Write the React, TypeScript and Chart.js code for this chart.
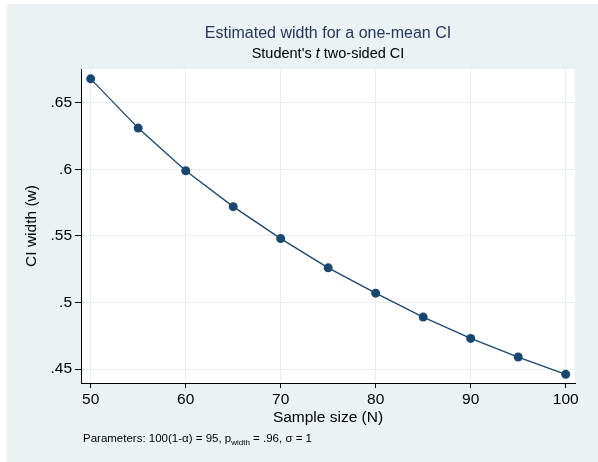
import React, { useEffect, useRef } from "react";
import { Chart, registerables } from "chart.js";

Chart.register(...registerables);

const sampleSizes = [50, 55, 60, 65, 70, 75, 80, 85, 90, 95, 100];
const ciWidths = [0.668, 0.631, 0.599, 0.572, 0.548, 0.526, 0.507, 0.489, 0.473, 0.459, 0.446];
const xTickValues = [50, 60, 70, 80, 90, 100];
const yTickValues = [0.45, 0.5, 0.55, 0.6, 0.65];

const titleText = "Estimated width for a one-mean CI";
const subtitleParts = ["Student's ", "t", " two-sided CI"];
const xTitle = "Sample size (N)";
const yTitle = "CI width (w)";
const noteParts = ["Parameters: 100(1-\u03B1) = 95, p", "width", " = .96, \u03C3 = 1"];

const FONT = "'Liberation Sans', Arial, Helvetica, sans-serif";
const BG = "#eaf2f3";
const NAVY = "#1a476f";
const TITLE_COLOR = "#26365f";

const decorPlugin = {
  id: "decor",
  beforeDraw(chart: any) {
    const { ctx, chartArea } = chart;
    ctx.save();
    ctx.fillStyle = BG;
    ctx.fillRect(0, 0, chart.width, chart.height);
    ctx.fillStyle = "#ffffff";
    ctx.fillRect(chartArea.left, chartArea.top, chartArea.right - chartArea.left, chartArea.bottom - chartArea.top);
    ctx.restore();
  },
  afterDraw(chart: any) {
    const { ctx, chartArea } = chart;
    const cx = (chartArea.left + chartArea.right) / 2;
    const cy = (chartArea.top + chartArea.bottom) / 2;
    ctx.save();
    // Title
    ctx.fillStyle = TITLE_COLOR;
    ctx.font = `16px ${FONT}`;
    ctx.textAlign = "center";
    ctx.textBaseline = "alphabetic";
    ctx.fillText(titleText, cx, 34);
    // Subtitle with italic t
    ctx.fillStyle = "#000000";
    const fN = `14.5px ${FONT}`;
    const fI = `italic 14.5px ${FONT}`;
    ctx.font = fN;
    const w0 = ctx.measureText(subtitleParts[0]).width;
    const w2 = ctx.measureText(subtitleParts[2]).width;
    ctx.font = fI;
    const w1 = ctx.measureText(subtitleParts[1]).width;
    let x = cx - (w0 + w1 + w2) / 2;
    ctx.textAlign = "left";
    ctx.font = fN;
    ctx.fillText(subtitleParts[0], x, 54);
    x += w0;
    ctx.font = fI;
    ctx.fillText(subtitleParts[1], x, 54);
    x += w1;
    ctx.font = fN;
    ctx.fillText(subtitleParts[2], x, 54);
    // X axis title
    ctx.font = `15.5px ${FONT}`;
    ctx.textAlign = "center";
    ctx.textBaseline = "middle";
    ctx.fillText(xTitle, cx, 414);
    // Y axis title
    ctx.save();
    ctx.translate(25, cy);
    ctx.rotate(-Math.PI / 2);
    ctx.fillText(yTitle, 0, 0);
    ctx.restore();
    // Note
    ctx.textAlign = "left";
    ctx.textBaseline = "alphabetic";
    let nx = chartArea.left + 2;
    const ny = 438;
    ctx.font = `11.5px ${FONT}`;
    ctx.fillText(noteParts[0], nx, ny);
    nx += ctx.measureText(noteParts[0]).width;
    ctx.font = `8px ${FONT}`;
    ctx.fillText(noteParts[1], nx, ny + 2.5);
    nx += ctx.measureText(noteParts[1]).width;
    ctx.font = `11.5px ${FONT}`;
    ctx.fillText(noteParts[2], nx, ny);
    ctx.restore();
  },
};

export default function App() {
  const canvasRef = useRef<HTMLCanvasElement | null>(null);

  useEffect(() => {
    if (!canvasRef.current) return;
    const chart = new Chart(canvasRef.current, {
      type: "line",
      data: {
        datasets: [
          {
            data: sampleSizes.map((n, i) => ({ x: n, y: ciWidths[i] })),
            borderColor: NAVY,
            borderWidth: 1.3,
            backgroundColor: NAVY,
            pointBackgroundColor: NAVY,
            pointBorderColor: NAVY,
            pointBorderWidth: 0,
            pointRadius: 4.5,
            tension: 0,
          },
        ],
      },
      options: {
        animation: false,
        responsive: false,
        devicePixelRatio: 1,
        layout: { padding: { left: 0, right: 23, top: 65, bottom: 0 } },
        plugins: { legend: { display: false }, tooltip: { enabled: false }, title: { display: false } },
        scales: {
          x: {
            type: "linear",
            min: 48.98,
            max: 100.98,
            afterBuildTicks: (s: any) => {
              s.ticks = xTickValues.map((v) => ({ value: v }));
            },
            afterFit: (s: any) => {
              s.height = 79;
            },
            ticks: {
              color: "#000",
              font: { family: FONT, size: 15.5 },
              padding: 2,
              maxRotation: 0,
              autoSkip: false,
              callback: (v: any) => String(v),
            },
            grid: { color: "#e6eef0", lineWidth: 1, drawTicks: true, tickLength: 5, tickColor: "#000", tickWidth: 1 },
            border: { display: true, color: "#000", width: 1 },
          },
          y: {
            type: "linear",
            min: 0.4395,
            max: 0.6754,
            afterBuildTicks: (s: any) => {
              s.ticks = yTickValues.map((v) => ({ value: v }));
            },
            afterFit: (s: any) => {
              s.width = 74;
            },
            ticks: {
              color: "#000",
              font: { family: FONT, size: 15.5 },
              padding: 3,
              autoSkip: false,
              callback: (v: any) => {
                const s = String(Math.round(Number(v) * 100) / 100);
                return s.replace(/^0\./, ".");
              },
            },
            grid: { color: "#e6eef0", lineWidth: 1, drawTicks: true, tickLength: 6, tickColor: "#000", tickWidth: 1 },
            border: { display: true, color: "#000", width: 1 },
          },
        },
      },
      plugins: [decorPlugin],
    } as any);
    return () => chart.destroy();
  }, []);

  return (
    <div style={{ position: "absolute", left: 7, top: 4 }}>
      <canvas ref={canvasRef} width={591} height={458} style={{ display: "block" }} />
    </div>
  );
}
